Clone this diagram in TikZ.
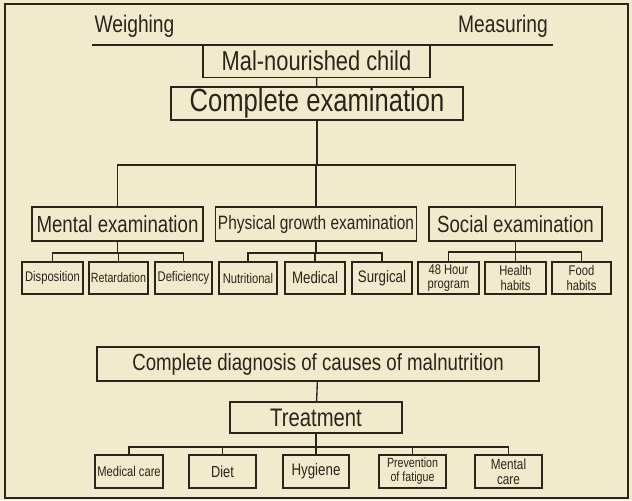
\documentclass[tikz,border=0pt]{standalone}
\usepackage{fontspec}
\setmainfont[FakeStretch=0.8]{Liberation Sans}
\definecolor{paper}{RGB}{241,235,206}
\definecolor{ink}{RGB}{42,36,26}
\newcommand\px{0.75pt}

\begin{document}
\begin{tikzpicture}[x=0.75pt,y=-0.75pt,
    box/.style={
      draw,
      shape=rectangle,
      align=center,
      inner sep=0pt,
      outer sep=0pt,
      ink,
      line width=1.2pt
    },
    bigbox/.style={box,minimum height=33*\px,font=\fontsize{19}{20}\selectfont},
    midbox/.style={box,minimum height=34*\px,font=\fontsize{17.5}{18}\selectfont},
    smallbox/.style={box,minimum height=32*\px,font=\fontsize{10.5}{11}\selectfont},
    twobox/.style={box,minimum height=32*\px,font=\fontsize{10.5}{11}\selectfont},
    label/.style={ink,inner sep=0pt,anchor=base,font=\fontsize{18}{18}\selectfont},
    tree/.style={ink,line width=1pt}
    ]
    \fill[paper] (0,0) rectangle (632,500);
    \draw[ink,line width=1.4pt] (5,4) rectangle (628,498);
    %\node[label] at (316,32) {Weighing \quad Measuring};
    \node[label] (weigh) at (134.5,32) {Weighing};
    \node[label] (meas) at (503,32) {Measuring};
    \coordinate (rl) at (92,45);
    \coordinate (rr) at (553,45);
    \draw[tree] (rl) -- (rr);
    \node[bigbox,minimum width=227*\px,font=\fontsize{20.5}{21}\selectfont] (child) at (316.5,61) {Mal-nourished child};
    \node[bigbox,minimum width=292*\px,font=\fontsize{24}{24}\selectfont] (exam) at (317,103.5) {Complete examination};
    \node[midbox,minimum width=171*\px] (mental) at (117.5,224) {Mental examination};
    \node[midbox,minimum width=201*\px,font=\fontsize{14.5}{15}\selectfont] (phys) at (316,224) {Physical growth examination};
    \node[midbox,minimum width=173*\px] (social) at (515.5,224) {Social examination};
    \node[smallbox,minimum width=61*\px] (disp) at (52.5,278) {Disposition};
    \node[smallbox,minimum width=59*\px,font=\fontsize{10}{10}\selectfont] (retard) at (118.5,278) {Retardation};
    \node[smallbox,minimum width=57*\px] (defic) at (183.5,278) {Deficiency};
    \node[smallbox,minimum width=58*\px] (nutr) at (248,278) {Nutritional};
    \node[smallbox,minimum width=60*\px,font=\fontsize{12.5}{13}\selectfont] (medic) at (315,278) {Medical};
    \node[smallbox,minimum width=60*\px,font=\fontsize{12.5}{13}\selectfont] (surg) at (382,278) {Surgical};
    \node[twobox,minimum width=61*\px] (hour) at (448.5,278) {48 Hour\\program};
    \node[twobox,minimum width=61*\px] (health) at (515.5,278) {Health\\habits};
    \node[twobox,minimum width=59*\px] (food) at (581.5,278) {Food\\habits};
    \node[midbox,minimum width=442*\px] (diag) at (318,364) {Complete diagnosis of causes of malnutrition};
    \node[box,minimum width=172*\px,minimum height=31*\px,font=\fontsize{19}{19}\selectfont] (treat) at (316,417.5) {Treatment};
    \node[smallbox,minimum width=68*\px,minimum height=33*\px] (mcare) at (129,471.5) {Medical care};
    \node[smallbox,minimum width=67*\px,minimum height=33*\px,font=\fontsize{12}{12}\selectfont] (diet) at (222.5,471.5) {Diet};
    \node[smallbox,minimum width=66*\px,minimum height=33*\px,font=\fontsize{12.5}{13}\selectfont] (hyg) at (316,471.5) {Hygiene};
    \node[twobox,minimum width=67*\px,minimum height=33*\px,font=\fontsize{10}{10.5}\selectfont] (prev) at (412.5,471.5) {Prevention\\of fatigue};
    \node[twobox,minimum width=67*\px,minimum height=33*\px,font=\fontsize{11}{11.5}\selectfont] (mcare2) at (508.5,471.5) {Mental\\care};
    \draw[tree] (child) -- (exam);
    \draw[tree] (exam.south) -- ++(0,45) -| (mental.north);
    \draw[tree] (exam.south) -- ++(0,45) -| (phys.north);
    \draw[tree] (exam.south) -- ++(0,45) -| (social.north);
    \draw[tree] (mental.south) -- ++(0,12) -| (disp.north);
    \draw[tree] (mental.south) -- ++(0,12) -| (retard.north);
    \draw[tree] (mental.south) -- ++(0,12) -| (defic.north);
    \draw[tree] (phys.south) -- ++(0,12) -| (nutr.north);
    \draw[tree] (phys.south) -- ++(0,12) -| (medic.north);
    \draw[tree] (phys.south) -- ++(0,12) -| (surg.north);
    \draw[tree] (social.south) -- ++(0,11) -| (hour.north);
    \draw[tree] (social.south) -- ++(0,11) -| (health.north);
    \draw[tree] (social.south) -- ++(0,11) -| (food.north);
    \draw[tree] (diag) -- (treat);
    \draw[tree] (treat.south) -- ++(0,14) -| (mcare.north);
    \draw[tree] (treat.south) -- ++(0,14) -| (diet.north);
    \draw[tree] (treat.south) -- ++(0,14) -| (hyg.north);
    \draw[tree] (treat.south) -- ++(0,14) -| (prev.north);
    \draw[tree] (treat.south) -- ++(0,14) -| (mcare2.north);
  \end{tikzpicture}
\end{document}
